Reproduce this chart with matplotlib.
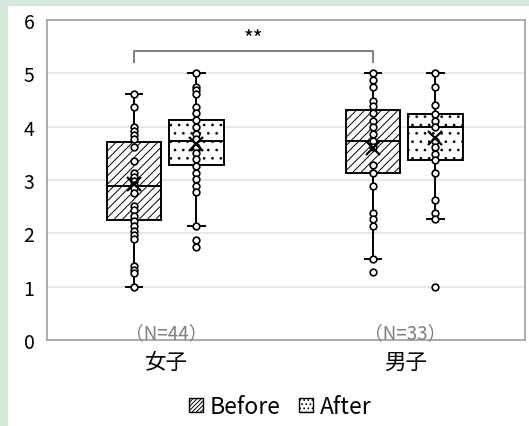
import matplotlib.pyplot as plt
from matplotlib.patches import Patch, Rectangle

plt.rcParams['font.family'] = ['Noto Sans CJK JP', 'DejaVu Sans']
plt.rcParams['hatch.linewidth'] = 0.7

# data
groups = ['女子', '男子']
n_labels = ['（N=44）', '（N=33）']
series = ['Before', 'After']

# box stats: [女子, 男子]
q1 = {'Before': [2.25, 3.125], 'After': [3.28, 3.375]}
med = {'Before': [2.89, 3.74], 'After': [3.74, 3.99]}
q3 = {'Before': [3.71, 4.31], 'After': [4.125, 4.24]}
whislo = {'Before': [1.0, 1.52], 'After': [2.13, 2.26]}
whishi = {'Before': [4.61, 5.0], 'After': [5.0, 5.0]}
means = {'Before': [2.93, 3.6], 'After': [3.67, 3.78]}

female_before = [4.61, 4.36, 3.99, 3.91, 3.84, 3.77, 3.62, 3.36, 3.13, 3.05, 2.98, 2.91,
                 2.85, 2.76, 2.51, 2.43, 2.33, 2.24, 2.14, 2.05, 1.97, 1.89, 1.39, 1.32, 1.26, 1.0]
female_after = [5.0, 4.74, 4.68, 4.61, 4.36, 4.25, 4.125, 3.99, 3.86, 3.76, 3.61, 3.5,
                3.39, 3.27, 3.14, 3.02, 2.89, 2.77, 2.13, 1.88, 1.75]
male_before = [5.0, 4.875, 4.74, 4.49, 4.38, 4.25, 4.11, 3.99, 3.86, 3.74, 3.62, 3.29,
               3.13, 2.88, 2.39, 2.27, 2.14, 1.52, 1.27]
male_after = [5.0, 4.74, 4.41, 4.24, 4.11, 3.99, 3.74, 3.61, 3.49, 3.375, 3.125, 2.63,
              2.38, 2.26, 1.0]
points = {'Before': [female_before, male_before], 'After': [female_after, male_after]}

hatches = {'Before': '////', 'After': '..'}
offsets = {'Before': -0.136, 'After': 0.125}

fig = plt.figure(figsize=(5.29, 4.27), dpi=100, facecolor='#d5e8dc')
fig.patches.append(Rectangle((8 / 529, 0), 1, 1 - 7 / 427, transform=fig.transFigure,
                             facecolor='white', edgecolor='none', zorder=-1))
ax = fig.add_axes([47 / 529, 86 / 427, 478 / 529, 320 / 427])

for s in series:
    stats = []
    pos = []
    for i in range(len(groups)):
        stats.append(dict(q1=q1[s][i], med=med[s][i], q3=q3[s][i], whislo=whislo[s][i],
                          whishi=whishi[s][i], mean=means[s][i], fliers=[]))
        pos.append(i + 0.5 + offsets[s])
    bp = ax.bxp(stats, positions=pos, widths=0.23, patch_artist=True, showmeans=True,
                boxprops=dict(facecolor='white', edgecolor='black', linewidth=1.4, hatch=hatches[s]),
                medianprops=dict(color='black', linewidth=1.4),
                whiskerprops=dict(color='black', linewidth=1.4),
                capprops=dict(color='black', linewidth=1.4),
                capwidths=0.07,
                meanprops=dict(marker='x', markersize=10, markeredgecolor='black',
                               markeredgewidth=1.6, zorder=5))
    for i in range(len(groups)):
        ys = points[s][i]
        ax.plot([pos[i]] * len(ys), ys, 'o', markersize=4.8, markerfacecolor='white',
                markeredgecolor='black', markeredgewidth=1.2, zorder=4)

# significance bracket
x1 = 0.5 + offsets['Before']
x2 = 1.5 + offsets['Before']
ax.plot([x1, x1, x2, x2], [5.22, 5.41, 5.41, 5.22], color='#7f7f7f', linewidth=1.4)
ax.text((x1 + x2) / 2, 5.64, '**', ha='center', va='center', fontsize=15)

for i, t in enumerate(n_labels):
    ax.text(i + 0.5, 0.13, t, ha='center', va='center', fontsize=13.5, color='#7f7f7f')

ax.set_xlim(0, 2)
ax.set_ylim(0, 6)
ax.set_xticks([0.5, 1.5])
ax.set_xticklabels(groups, fontsize=15.5)
ax.set_yticks(range(7))
ax.tick_params(axis='y', length=0, pad=9, labelsize=14)
ax.tick_params(axis='x', length=0, pad=8)
ax.grid(axis='y', color='#e3e3e3', linewidth=1.2)
ax.set_axisbelow(True)
for sp in ax.spines.values():
    sp.set_color('#a6a6a6')
    sp.set_linewidth(1.3)

handles = [Patch(facecolor='white', edgecolor='black', hatch=hatches[s] * 2, label=s) for s in series]
fig.legend(handles=handles, loc='center', bbox_to_anchor=(0.53, 0.045), ncol=2, frameon=False,
           fontsize=16.5, handlelength=0.6, handleheight=0.6, handletextpad=0.3, columnspacing=0.8)

fig.savefig('out.png', dpi=100, facecolor=fig.get_facecolor())
